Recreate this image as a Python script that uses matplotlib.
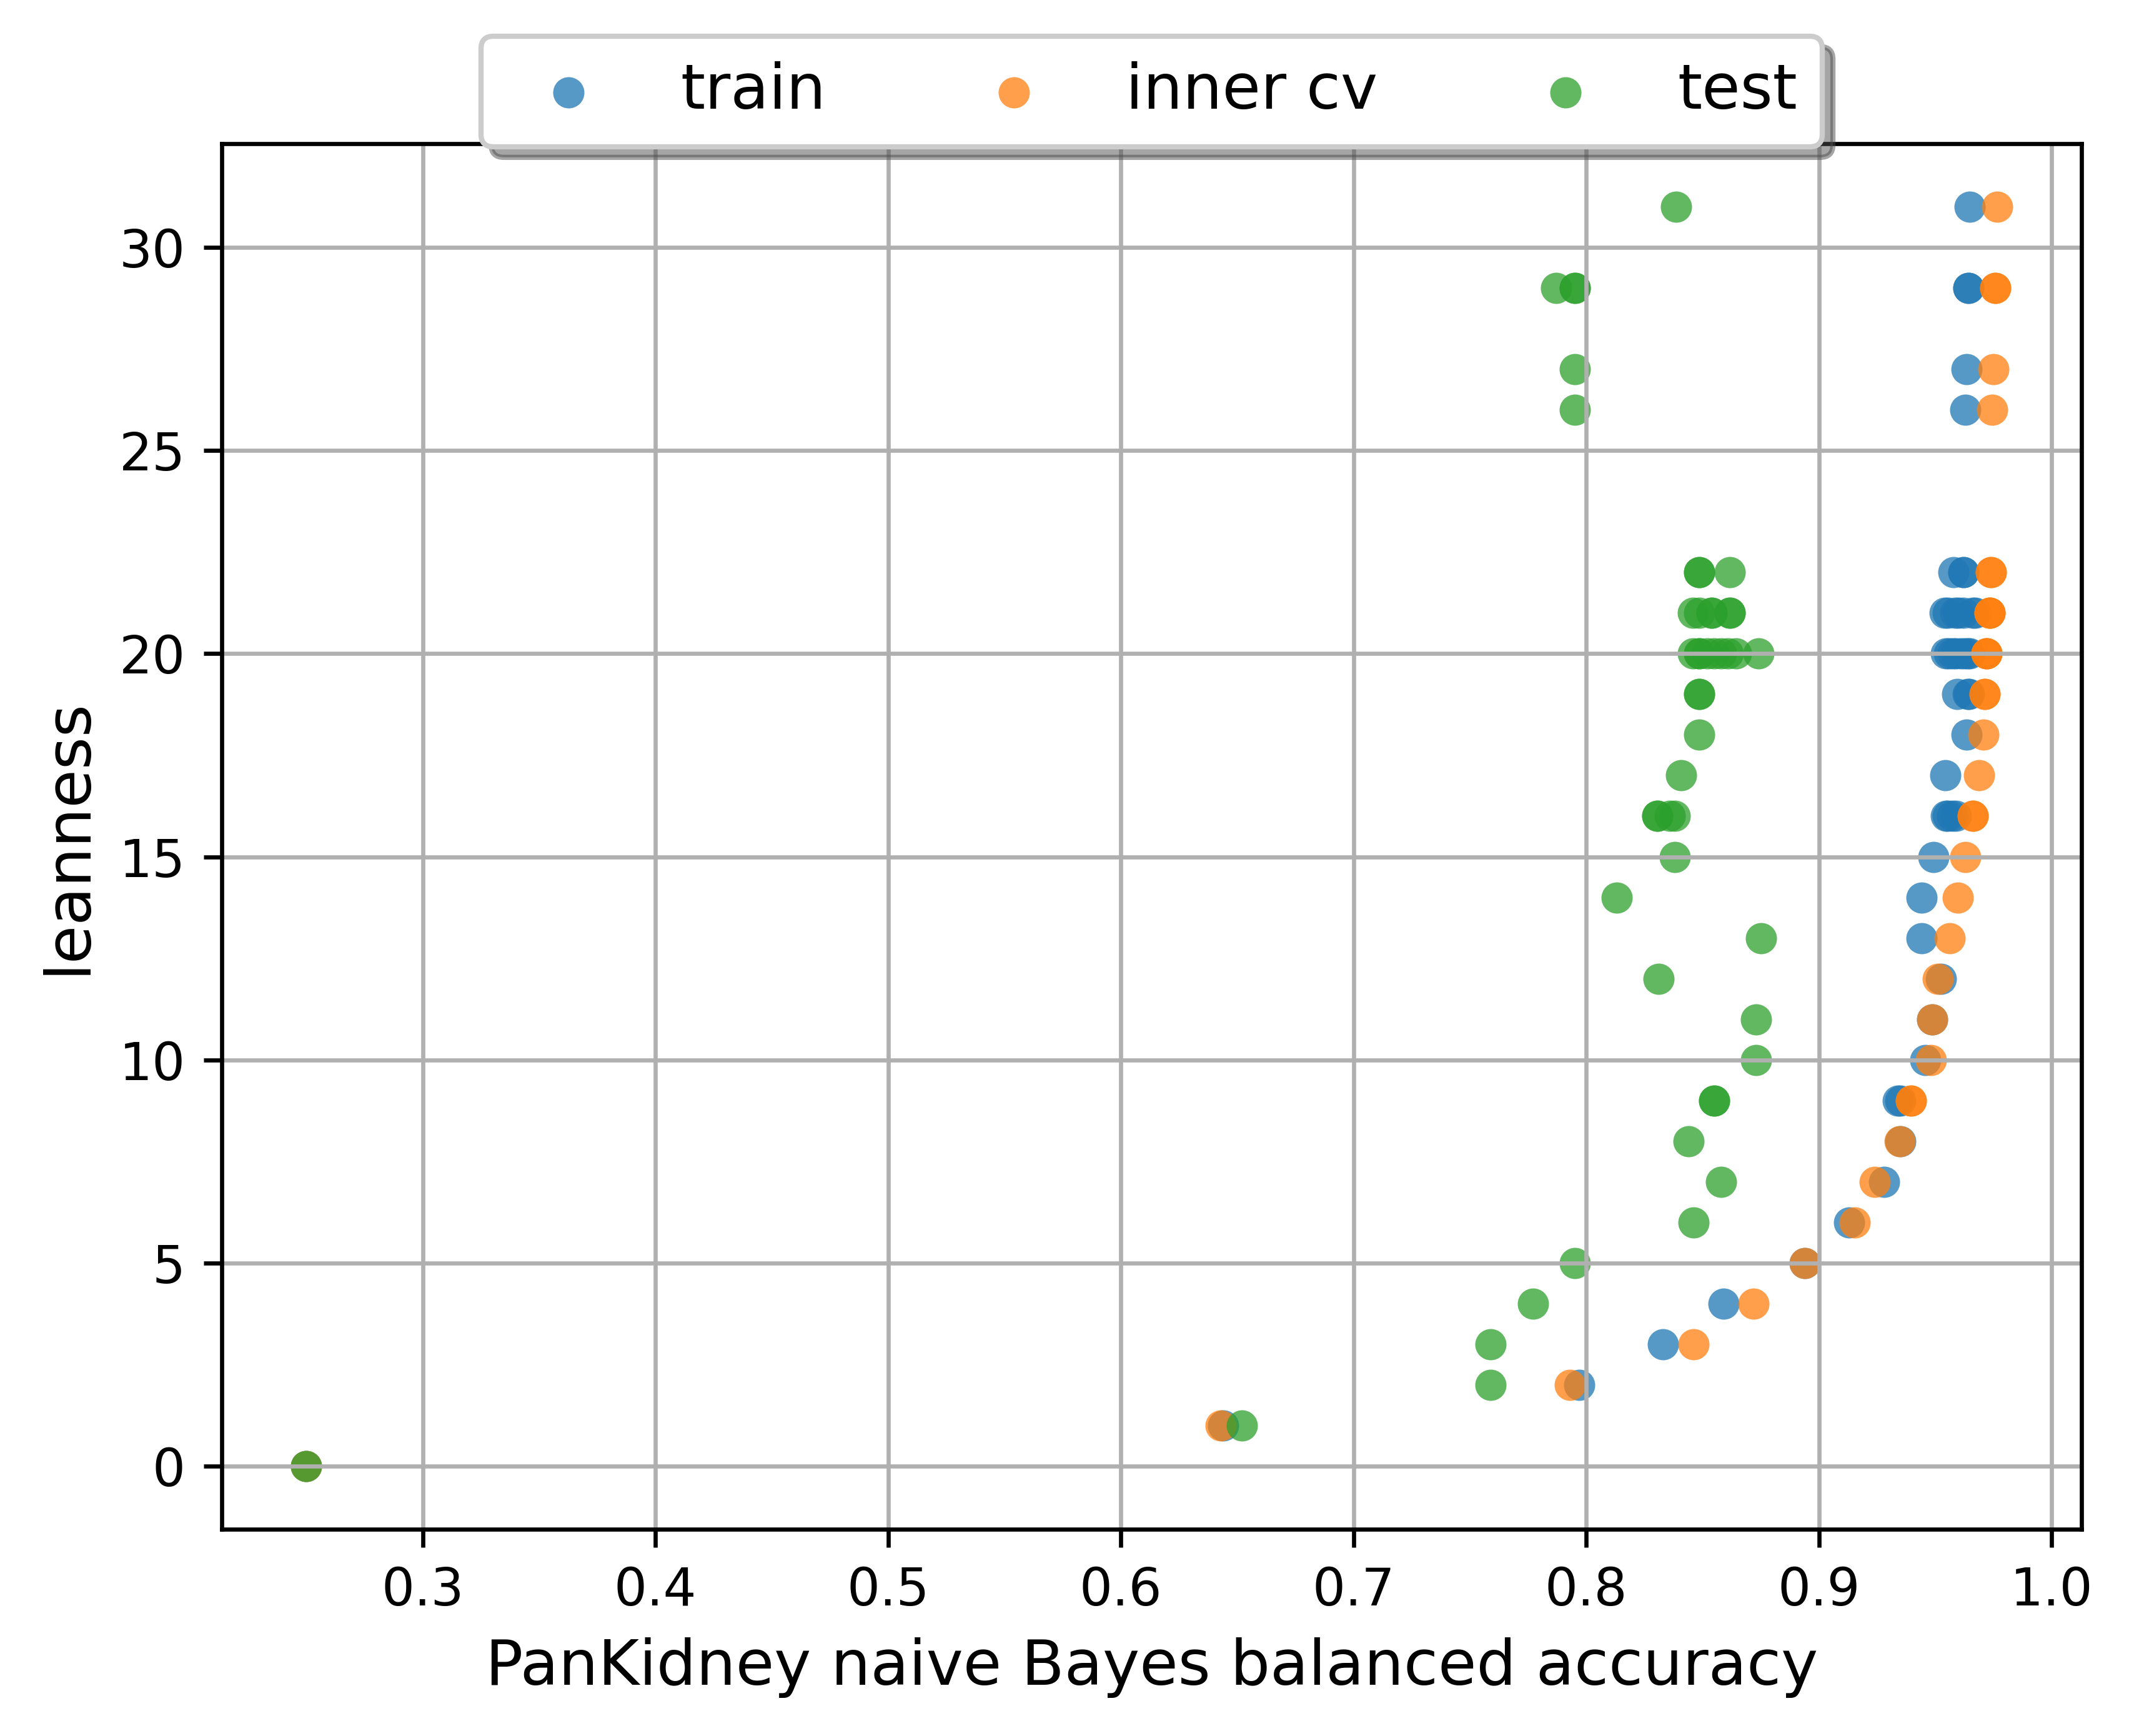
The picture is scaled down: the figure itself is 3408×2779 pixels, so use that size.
import matplotlib
matplotlib.use("Agg")
import matplotlib.pyplot as plt

# leanness level of each point, with balanced accuracy per split
train_y = [0, 1, 2, 3, 4, 5, 6, 7, 8, 9, 9, 10, 11, 12, 13, 14, 15,
           16, 16, 16, 16, 17, 18, 19, 19, 19,
           20, 20, 20, 20, 20, 20, 20, 20,
           21, 21, 21, 21, 21, 21, 21,
           22, 22, 22, 26, 27, 29, 29, 31]
train_x = [0.250, 0.644, 0.797, 0.833, 0.859, 0.894, 0.913, 0.928, 0.935, 0.934, 0.935,
           0.9456, 0.9486, 0.9524, 0.944, 0.944, 0.9493,
           0.9545, 0.9555, 0.9573, 0.959, 0.9544, 0.9635, 0.9595, 0.9641, 0.9645,
           0.9545, 0.956, 0.9575, 0.959, 0.961, 0.9625, 0.964, 0.9647,
           0.954, 0.9555, 0.9585, 0.960, 0.9621, 0.966, 0.9673,
           0.9578, 0.9621, 0.9621, 0.9628, 0.9635, 0.9643, 0.9643, 0.9649]

cv_y = [0, 1, 2, 3, 4, 5, 6, 7, 8, 9, 9, 10, 11, 12, 13, 14, 15,
        16, 16, 17, 18, 19, 19, 20, 20, 20, 21, 21, 21, 22, 22,
        26, 27, 29, 29, 31]
cv_x = [0.250, 0.643, 0.793, 0.846, 0.872, 0.894, 0.9155, 0.9239, 0.9346, 0.9395, 0.9395,
        0.948, 0.9486, 0.9512, 0.9563, 0.9597, 0.9629,
        0.9661, 0.9661, 0.9687, 0.9707, 0.9713, 0.9713, 0.972, 0.972, 0.972,
        0.9733, 0.9733, 0.9733, 0.9739, 0.9739,
        0.9745, 0.9751, 0.9758, 0.9758, 0.9765]

test_y = [0, 1, 2, 3, 4, 5, 6, 7, 8, 9, 9, 10, 11, 12, 13, 14, 15,
          16, 16, 16, 16, 17, 18, 19, 19,
          20, 20, 20, 20, 20, 20, 20, 20, 20,
          21, 21, 21, 21, 21, 21,
          22, 22, 22, 26, 27, 29, 29, 29, 31]
test_x = [0.250, 0.652, 0.759, 0.759, 0.777, 0.795, 0.846, 0.858, 0.844, 0.855, 0.855,
          0.873, 0.873, 0.831, 0.875, 0.813, 0.838,
          0.8306, 0.8306, 0.836, 0.8382, 0.8408, 0.8486, 0.8486, 0.8486,
          0.8459, 0.8486, 0.8486, 0.852, 0.855, 0.858, 0.861, 0.8643, 0.874,
          0.8459, 0.8486, 0.854, 0.854, 0.8617, 0.8617,
          0.8486, 0.8486, 0.8617, 0.795, 0.795, 0.787, 0.795, 0.795, 0.8385]

W, H = 3408, 2779
fig = plt.figure(figsize=(W / 600, H / 600), dpi=600)
left, right, top, bottom = 355, 3332, 230, 2448
ax = fig.add_axes([left / W, 1 - bottom / H, (right - left) / W, (bottom - top) / H])

ax.scatter(train_x, train_y, alpha=0.75, linewidths=0, label="train")
ax.scatter(cv_x, cv_y, alpha=0.75, linewidths=0, label="inner cv")
ax.scatter(test_x, test_y, alpha=0.75, linewidths=0, label="test")

ax.grid(True)
ax.set_xlabel("PanKidney naive Bayes balanced accuracy", fontsize=12)
ax.set_ylabel("leanness", fontsize=12)
ax.legend(loc="upper center", bbox_to_anchor=(0.5, 1.1), ncol=3,
          shadow=True, fontsize=12)

fig.savefig("out.png", dpi=600)
